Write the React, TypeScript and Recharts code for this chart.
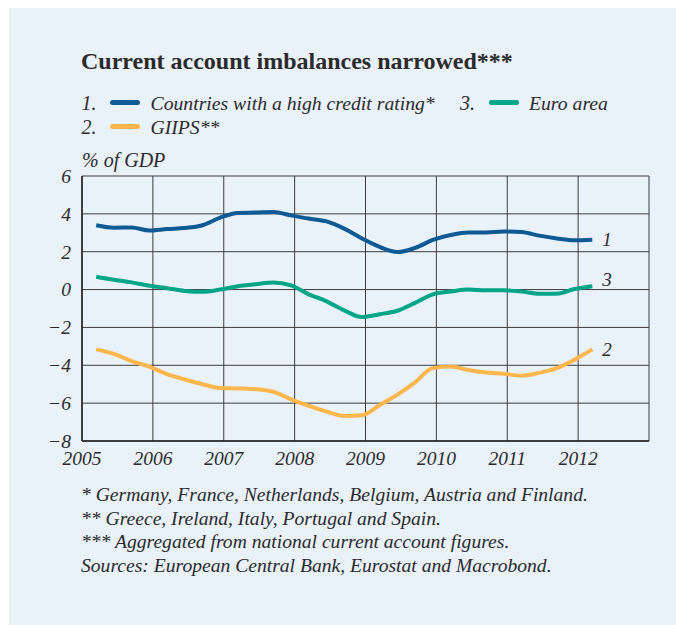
import { LineChart, Line, XAxis, YAxis, CartesianGrid } from 'recharts';

// quarterly observations, % of GDP
const quarters = [
  2005.2, 2005.45, 2005.7, 2005.95, 2006.2, 2006.45, 2006.7, 2006.95,
  2007.2, 2007.45, 2007.7, 2007.95, 2008.2, 2008.45, 2008.7, 2008.95,
  2009.2, 2009.45, 2009.7, 2009.95, 2010.2, 2010.45, 2010.7, 2010.95,
  2011.2, 2011.45, 2011.7, 2011.95, 2012.2,
];
const highRated = [
  3.4, 3.27, 3.28, 3.12, 3.2, 3.25, 3.4, 3.8,
  4.05, 4.07, 4.1, 3.92, 3.75, 3.6, 3.22, 2.7,
  2.25, 1.98, 2.2, 2.62, 2.88, 3.02, 3.02, 3.07,
  3.04, 2.85, 2.7, 2.6, 2.63,
];
const giips = [
  -3.16, -3.4, -3.78, -4.07, -4.47, -4.75, -5.0, -5.2,
  -5.22, -5.26, -5.4, -5.8, -6.15, -6.45, -6.68, -6.64,
  -6.1, -5.55, -4.9, -4.15, -4.07, -4.25, -4.38, -4.45,
  -4.55, -4.4, -4.15, -3.7, -3.16,
];
const euroArea = [
  0.67, 0.52, 0.38, 0.2, 0.07, -0.07, -0.12, 0.0,
  0.18, 0.28, 0.37, 0.22, -0.25, -0.62, -1.1, -1.45,
  -1.3, -1.12, -0.7, -0.25, -0.1, 0.0, -0.04, -0.04,
  -0.1, -0.22, -0.22, 0.03, 0.18,
];
const yearTicks = [2005, 2006, 2007, 2008, 2009, 2010, 2011, 2012, 2013];
const valueTicks = [-8, -6, -4, -2, 0, 2, 4, 6];
const footnotes = [
  '* Germany, France, Netherlands, Belgium, Austria and Finland.',
  '** Greece, Ireland, Italy, Portugal and Spain.',
  '*** Aggregated from national current account figures.',
  'Sources: European Central Bank, Eurostat and Macrobond.',
];

const BLUE = '#0d5a94';
const ORANGE = '#fcb64b';
const GREEN = '#00a588';
const TEXT = '#2b2b2b';
const BG = '#e9f1f9';
const FONT = "'Liberation Serif', 'Times New Roman', serif";

const data = quarters.map((q, i) => ({
  q, high: highRated[i], giips: giips[i], euro: euroArea[i],
}));

function endLabel(text: string, dy: number) {
  return (props: any) => {
    if (props.index !== data.length - 1) return null;
    return (
      <text x={props.x + 10} y={props.y + dy} fill={TEXT} fontSize={19}
        fontStyle="italic" fontFamily={FONT}>{text}</text>
    );
  };
}

const abs = (left: number, top: number): React.CSSProperties => ({
  position: 'absolute', left, top, whiteSpace: 'nowrap',
});

function LegendItem({ x, y, num, color, label }: {
  x: number; y: number; num: string; color: string; label: string;
}) {
  return (
    <>
      <div style={{ ...abs(x, y), fontSize: 20, fontStyle: 'italic' }}>{num}</div>
      <div style={{
        ...abs(x + 28.5, y + 8), width: 30, height: 5, borderRadius: 3, background: color,
      }} />
      <div style={{ ...abs(x + 69, y), fontSize: 19.7, fontStyle: 'italic' }}>{label}</div>
    </>
  );
}

export default function App() {
  return (
    <div style={{
      position: 'absolute', left: 9, top: 8, width: 667, height: 617,
      background: BG, fontFamily: FONT, color: TEXT, overflow: 'hidden',
    }}>
      <LineChart width={667} height={480} data={data}
        margin={{ top: 168, right: 27, bottom: 17, left: 23 }}
        style={{ position: 'absolute', left: 0, top: 0 }}>
        <CartesianGrid stroke="#3c3c3c" strokeWidth={1} />
        <XAxis dataKey="q" type="number" domain={[2005, 2013]} ticks={yearTicks}
          interval={0} tickLine={false} tickSize={0} tickMargin={10} height={30}
          axisLine={{ stroke: '#222', strokeWidth: 1.5 }}
          tickFormatter={v => (v === 2013 ? '' : String(v))}
          tick={{ fill: TEXT, fontSize: 19.5, fontStyle: 'italic', fontFamily: FONT }} />
        <YAxis type="number" domain={[-8, 6]} ticks={valueTicks} interval={0}
          tickLine={false} tickSize={0} tickMargin={11} width={50}
          axisLine={{ stroke: '#222', strokeWidth: 1.5 }}
          tickFormatter={v => (v < 0 ? '\u2212' + Math.abs(v) : String(v))}
          tick={{ fill: TEXT, fontSize: 19.5, fontStyle: 'italic', fontFamily: FONT }} />
        <Line type="monotone" dataKey="giips" stroke={ORANGE} strokeWidth={4}
          dot={false} isAnimationActive={false} label={endLabel('2', 7)} />
        <Line type="monotone" dataKey="euro" stroke={GREEN} strokeWidth={4}
          dot={false} isAnimationActive={false} label={endLabel('3', 0)} />
        <Line type="monotone" dataKey="high" stroke={BLUE} strokeWidth={4}
          dot={false} isAnimationActive={false} label={endLabel('1', 6)} />
      </LineChart>

      <div style={{ ...abs(72, 40), fontSize: 24, fontWeight: 'bold' }}>
        Current account imbalances narrowed***
      </div>

      <LegendItem x={72.5} y={84} num="1." color={BLUE} label="Countries with a high credit rating*" />
      <LegendItem x={451} y={84} num="3." color={GREEN} label="Euro area" />
      <LegendItem x={72.5} y={107.5} num="2." color={ORANGE} label="GIIPS**" />
      <div style={{ ...abs(73, 140.5), fontSize: 20, fontStyle: 'italic' }}>% of GDP</div>

      <div style={{ ...abs(72, 475), fontSize: 19.6, fontStyle: 'italic', lineHeight: '23.7px' }}>
        {footnotes.map(f => <div key={f}>{f}</div>)}
      </div>
    </div>
  );
}
